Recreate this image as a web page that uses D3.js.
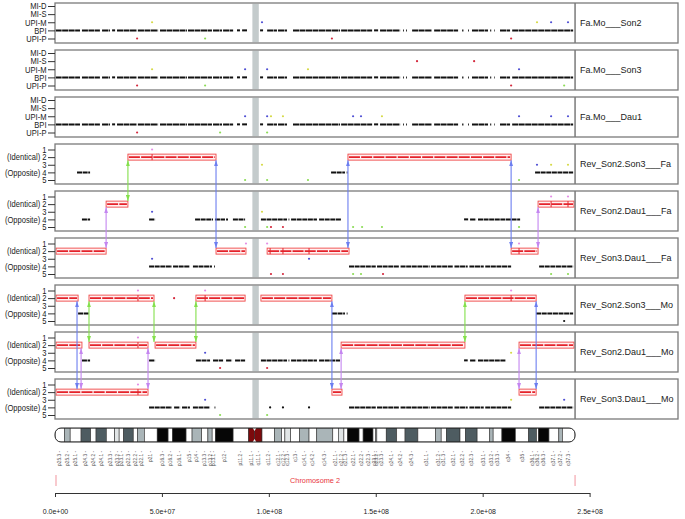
<!DOCTYPE html>
<html>
<head>
<meta charset="utf-8">
<script src="https://cdn.jsdelivr.net/npm/d3@7"></script>
<style>
body { margin: 0; background: #fff; }
svg { display: block; }
</style>
</head>
<body>
<svg id="chart" width="685" height="519"></svg>
<script>
// panel labels, rows
const panelNames = ['Fa.Mo___Son2', 'Fa.Mo___Son3', 'Fa.Mo___Dau1',
  'Rev_Son2.Son3___Fa', 'Rev_Son2.Dau1___Fa', 'Rev_Son3.Dau1___Fa',
  'Rev_Son2.Son3___Mo', 'Rev_Son2.Dau1___Mo', 'Rev_Son3.Dau1___Mo'];
const topRowLabels = ['MI-D', 'MI-S', 'UPI-M', 'BPI', 'UPI-P'];
const lowRowLabels = ['1', '(Identical) 2', '3', '(Opposite) 4', '5'];
const centromere = [92.3, 95.3]; // Mb

// BPI runs (Mb), same in the three Fa.Mo panels
const bpiRuns = [[0.3,11.7],[12.6,21],[22,25.7],[26.7,28.1],[29,38.4],[38.8,48.2],[49.1,61.7],[62.2,73.4],
  [73.9,78.1],[78.6,83.3],[85.1,86.5],[87.5,89.8],[95.9,97.3],[99.2,103.8],[104.3,108.5],[111.3,133.3],
  [133.8,148.3],[149.2,151.1],[152,161.4],[162.8,163.2],[164.2,164.6],[167,176.3],[177.3,188.5],[190.4,191],
  [193.2,193.6],[195,202.5],[203.5,204],[205.3,205.6],[208.1,212.8],[213.8,242.3]];

// [Mb, row (1..5), colour class]
const topDots = [
  [[45.4,3,'yellow'],[96.8,3,'blue'],[225.4,3,'yellow'],[232.0,3,'blue'],[239.9,3,'blue'],
   [38.4,5,'red'],[70.2,5,'green'],[129.5,5,'red'],[213.3,5,'red']],
  [[45.4,3,'yellow'],[88.9,3,'blue'],[99.2,3,'blue'],[118.3,3,'yellow'],[217.0,3,'blue'],
   [169.3,2,'red'],[196.0,2,'red'],[38.4,5,'red'],[70.2,5,'green'],[213.3,5,'red'],[238.1,5,'green']],
  [[88.9,3,'blue'],[99.2,3,'blue'],[101.0,3,'yellow'],[106.6,3,'yellow'],[139.4,3,'blue'],[143.1,3,'blue'],
   [152.9,3,'yellow'],[217.0,3,'blue'],[232.0,3,'blue'],[239.9,3,'blue'],
   [38.4,5,'red'],[77.2,5,'green'],[99.2,5,'green']]
];

// identical-state blocks (Mb) for the six Rev panels
const boxes = [
  [[34.1,75.3],[137.0,213.3]],
  [[23.9,34.1],[225.9,242.7]],
  [[0.5,23.9],[75.3,89.3],[99.2,137.5],[213.3,225.9]],
  [[0.5,10.8],[15.9,46.3],[65.9,88.9],[96.3,129.5],[191.7,225.0]],
  [[0.5,12.6],[15.9,43.5],[46.8,65.9],[133.8,191.7],[217.0,242.7]],
  [[0.5,43.5],[129.5,134.2],[217.0,225.0]]
];
const boxTicks = [
  [45.4],
  [232.0,239.9],
  [100.6,106.6,118.8,217.0],
  [38.8,70.2,213.3],
  [38.8],
  [38.8]
];
// opposite-state runs (row 4)
const oppRuns = [
  [[10.3,16.4],[129.1,135.6],[136.4,136.8],[224.5,242.3]],
  [[12.6,16.4],[44.0,46.8],[65.5,73.9],[74.8,79.5],[80.0,80.9],[83.2,88.9],[96.3,108.5],[109.2,109.6],
   [110.4,122.5],[123.5,133.8],[191.3,193.2],[194.1,196.9],[197.8,217.5]],
  [[44.0,54.7],[55.2,63.1],[64.5,73.4],[74.4,74.8],[137.5,150.0],[150.6,161.0],[161.6,175.2],[175.8,186.0],
   [186.8,193.0],[193.8,200.5],[201.2,213.3],[226.4,242.3]],
  [[10.8,15.9],[129.5,135.6],[136.4,136.8],[225.0,242.3]],
  [[12.6,16.4],[44.0,46.8],[65.9,72.5],[73.9,78.6],[80.0,82.8],[84.2,88.9],[96.3,108.5],[109.2,109.6],
   [110.4,122.5],[123.5,133.3],[191.3,193.0],[194.1,196.9],[197.8,210.9]],
  [[44.0,54.7],[55.7,58.5],[59.4,63.1],[64.5,72.5],[74.6,75.0],[137.5,150.0],[150.6,161.0],[161.6,175.2],
   [175.8,186.0],[186.8,193.0],[193.8,200.5],[201.2,213.3],[226.4,242.3]]
];
const lowDots = [
  [[45.4,1,'pink'],[96.8,3,'yellow'],[88.9,5,'green'],[99.2,5,'green'],[118.3,5,'green'],
   [225.4,3,'blue'],[232.0,3,'yellow'],[239.9,3,'yellow'],[217.0,5,'green']],
  [[45.4,3,'blue'],[96.8,3,'yellow'],[88.9,5,'green'],[99.2,5,'green'],[101.0,5,'red'],[106.6,5,'red'],
   [139.4,5,'green'],[143.6,5,'green'],[152.9,5,'green'],[217.0,5,'green'],[232.0,1,'pink'],[239.9,1,'pink']],
  [[89.3,1,'pink'],[99.2,1,'pink'],[45.4,3,'blue'],[118.8,3,'blue'],[101.0,5,'red'],[106.6,5,'red'],
   [139.4,5,'green'],[143.1,5,'green'],[153.4,5,'red'],[217.0,1,'pink'],[232.0,5,'green'],[239.9,5,'green']],
  [[38.8,1,'pink'],[55.7,2,'red'],[70.2,1,'pink'],[213.3,1,'pink'],[238.1,5,'black']],
  [[38.8,1,'pink'],[70.2,3,'blue'],[77.2,5,'red'],[99.2,5,'red'],[213.3,3,'yellow']],
  [[38.8,1,'pink'],[70.2,3,'blue'],[77.2,5,'green'],[99.2,5,'green'],[100.6,4,'black'],[106.6,4,'black'],
   [118.8,4,'black'],[213.3,3,'yellow'],[238.1,3,'blue']]
];
// [Mb, from panel, to panel, colour] (Rev panels counted 0..5)
const arrows = [
  [34.1,0,1,'green'],[23.9,1,2,'purple'],[75.3,0,2,'blue'],[137.0,0,2,'blue'],[213.3,0,2,'blue'],[225.9,1,2,'purple'],
  [10.3,3,5,'blue'],[15.9,3,4,'green'],[12.2,4,5,'purple'],[46.3,3,4,'green'],[43.5,4,5,'purple'],
  [65.9,3,4,'green'],[129.5,3,5,'blue'],[133.8,4,5,'purple'],[191.7,3,4,'green'],[217.0,4,5,'purple'],[225.0,3,5,'blue']
];

// chromosome 2 bands (Mb)
const bands = [
  ['p25.3',0,4.4,'gneg'],['p25.2',4.4,7.1,'gpos50'],['p25.1',7.1,12.2,'gneg'],['p24.3',12.2,16.7,'gpos75'],
  ['p24.2',16.7,19.2,'gneg'],['p24.1',19.2,24.0,'gpos75'],['p23.3',24.0,27.9,'gneg'],['p23.2',27.9,30.0,'gpos25'],
  ['p23.1',30.0,32.1,'gneg'],['p22.3',32.1,36.6,'gpos75'],['p22.2',36.6,38.6,'gneg'],['p22.1',38.6,41.8,'gpos50'],
  ['p21',41.8,47.8,'gneg'],['p16.3',47.8,52.9,'gpos100'],['p16.2',52.9,55.0,'gneg'],['p16.1',55.0,61.3,'gpos100'],
  ['p15',61.3,64.1,'gneg'],['p14',64.1,68.6,'gpos50'],['p13.3',68.6,71.5,'gneg'],['p13.2',71.5,73.5,'gpos50'],
  ['p13.1',73.5,75.0,'gneg'],['p12',75.0,83.3,'gpos100'],['p11.2',83.3,90.5,'gneg'],['p11.1',90.5,93.3,'acen'],
  ['q11.1',93.3,96.8,'acen'],['q11.2',96.8,102.7,'gneg'],['q12.1',102.7,106.0,'gpos50'],['q12.2',106.0,107.5,'gneg'],
  ['q12.3',107.5,110.2,'gpos25'],['q13',110.2,114.4,'gneg'],['q14.1',114.4,118.8,'gpos50'],['q14.2',118.8,122.4,'gneg'],
  ['q14.3',122.4,129.9,'gpos50'],['q21.1',129.9,132.5,'gneg'],['q21.2',132.5,135.1,'gpos25'],['q21.3',135.1,136.8,'gneg'],
  ['q22.1',136.8,142.2,'gpos100'],['q22.2',142.2,144.1,'gneg'],['q22.3',144.1,148.7,'gpos100'],['q23.1',148.7,149.9,'gneg'],
  ['q23.2',149.9,150.5,'gpos25'],['q23.3',150.5,154.9,'gneg'],['q24.1',154.9,159.8,'gpos75'],['q24.2',159.8,163.7,'gneg'],
  ['q24.3',163.7,169.7,'gpos75'],['q31.1',169.7,178.0,'gneg'],['q31.2',178.0,180.6,'gpos50'],['q31.3',180.6,183.0,'gneg'],
  ['q32.1',183.0,189.4,'gpos75'],['q32.2',189.4,191.9,'gneg'],['q32.3',191.9,197.4,'gpos75'],['q33.1',197.4,203.3,'gneg'],
  ['q33.2',203.3,204.9,'gpos50'],['q33.3',204.9,209.0,'gneg'],['q34',209.0,215.3,'gpos100'],['q35',215.3,221.5,'gneg'],
  ['q36.1',221.5,225.2,'gpos75'],['q36.2',225.2,226.1,'gneg'],['q36.3',226.1,231.0,'gpos100'],['q37.1',231.0,235.6,'gneg'],
  ['q37.2',235.6,237.3,'gpos50'],['q37.3',237.3,243.2,'gneg']
];
const chromLength = 243.2;
const chromLabel = 'Chromosome 2';
const xTicks = [0, 5e7, 1e8, 1.5e8, 2e8, 2.5e8];

const dotColor = {pink: '#e48ee6', blue: '#5050d4', yellow: '#d6da48', green: '#8cdc56', red: '#d42a3e', black: '#111'};
const arrowColor = {green: '#84e04c', blue: '#6c7ef0', purple: '#c486f0'};
const stainColor = {gneg: '#ffffff', gpos25: '#e1e5e6', gpos50: '#aab5b8', gpos75: '#4e5c61', gpos100: '#060606', acen: '#7c0a0c'};

const svg = d3.select('#chart');
const x = d3.scaleLinear().domain([0, 250]).range([55, 589.6]);
const xbp = d3.scaleLinear().domain([0, 2.5e8]).range([55, 589.6]);
const plotL = 55, plotR = x(chromLength), boxR = 678;
const panelTop = i => 3 + 47 * i;
const panelH = 40;
const rowY = i => d3.scaleLinear().domain([1, 5])
  .range(i < 3 ? [panelTop(i) + 3, panelTop(i) + 35.5] : [panelTop(i) + 5.5, panelTop(i) + 36]);

const defs = svg.append('defs');
Object.keys(arrowColor).forEach(k => {
  defs.append('marker')
    .attr('id', 'ah-' + k)
    .attr('viewBox', '0 0 6 4')
    .attr('refX', 6).attr('refY', 2)
    .attr('markerWidth', 6).attr('markerHeight', 4.2)
    .attr('markerUnits', 'userSpaceOnUse')
    .attr('orient', 'auto-start-reverse')
    .append('path').attr('d', 'M0,0L6,2L0,4Z').attr('fill', arrowColor[k]);
});

panelNames.forEach((name, i) => {
  const top = panelTop(i);
  const y = rowY(i);
  const g = svg.append('g');

  g.append('rect').attr('x', plotL).attr('y', top).attr('width', plotR - plotL).attr('height', panelH)
    .attr('fill', '#fff');
  g.append('rect')
    .attr('x', x(centromere[0])).attr('y', top + 0.8)
    .attr('width', x(centromere[1]) - x(centromere[0])).attr('height', panelH - 1.6)
    .attr('fill', '#c4cbcc');

  if (i < 3) {
    g.selectAll('line.bpi').data(bpiRuns).enter().append('line')
      .attr('x1', d => x(d[0])).attr('x2', d => x(d[1]))
      .attr('y1', y(4)).attr('y2', y(4))
      .attr('stroke', '#111').attr('stroke-width', 2)
      .attr('stroke-dasharray', '6,0.5');
    g.selectAll('circle').data(topDots[i]).enter().append('circle')
      .attr('cx', d => x(d[0])).attr('cy', d => y(d[1])).attr('r', 1.1)
      .attr('fill', d => dotColor[d[2]]);
  } else {
    const k = i - 3;
    g.selectAll('line.opp').data(oppRuns[k]).enter().append('line')
      .attr('x1', d => x(d[0])).attr('x2', d => x(d[1]))
      .attr('y1', y(4)).attr('y2', y(4))
      .attr('stroke', '#111').attr('stroke-width', 2)
      .attr('stroke-dasharray', '5,0.6');
    g.selectAll('rect.box').data(boxes[k]).enter().append('rect')
      .attr('x', d => x(d[0])).attr('width', d => x(d[1]) - x(d[0]))
      .attr('y', y(2) - 3).attr('height', 6)
      .attr('fill', 'rgba(255,210,210,0.3)').attr('stroke', '#f04848').attr('stroke-width', 0.9);
    g.selectAll('line.ident').data(boxes[k]).enter().append('line')
      .attr('x1', d => x(d[0]) + 1).attr('x2', d => x(d[1]) - 1)
      .attr('y1', y(2)).attr('y2', y(2))
      .attr('stroke', '#e4222a').attr('stroke-width', 1.8)
      .attr('stroke-dasharray', '11,1.2');
    g.selectAll('line.tick').data(boxTicks[k]).enter().append('line')
      .attr('x1', d => x(d)).attr('x2', d => x(d))
      .attr('y1', y(2) - 3).attr('y2', y(2) + 3)
      .attr('stroke', '#e4222a').attr('stroke-width', 1);
    g.selectAll('circle').data(lowDots[k]).enter().append('circle')
      .attr('cx', d => x(d[0])).attr('cy', d => y(d[1])).attr('r', 1.1)
      .attr('fill', d => dotColor[d[2]]);
  }

  // frame + label box
  g.append('rect').attr('x', plotL).attr('y', top).attr('width', boxR - plotL).attr('height', panelH)
    .attr('fill', 'none').attr('stroke', '#7a7a7a').attr('stroke-width', 1.3);
  g.append('line').attr('x1', plotR).attr('x2', plotR).attr('y1', top).attr('y2', top + panelH)
    .attr('stroke', '#7a7a7a').attr('stroke-width', 1.5);
  g.append('text').attr('x', plotR + 5).attr('y', top + panelH / 2 + 3)
    .attr('font-family', 'Liberation Sans, Arial, sans-serif').attr('font-size', 9)
    .attr('fill', '#222').text(name);

  // y axis
  const labels = i < 3 ? topRowLabels : lowRowLabels;
  const ax = g.append('g').attr('transform', `translate(${plotL},0)`)
    .call(d3.axisLeft(y).tickValues([1, 2, 3, 4, 5]).tickSize(7).tickPadding(1.5)
      .tickFormat((d, j) => labels[j]));
  ax.select('.domain').remove();
  ax.selectAll('line').attr('stroke', '#333');
  ax.selectAll('text')
    .attr('font-family', 'Liberation Sans, Arial, sans-serif').attr('font-size', 8.6)
    .attr('fill', '#222')
    .attr('x', -8.5 / 0.88)
    .attr('transform', 'scale(0.88,1)');
});

// arrows between Rev panels
svg.append('g').selectAll('line').data(arrows).enter().append('line')
  .attr('x1', d => x(d[0])).attr('x2', d => x(d[0]))
  .attr('y1', d => rowY(d[1] + 3)(2) + 3.2)
  .attr('y2', d => rowY(d[2] + 3)(2) - 3.2)
  .attr('stroke', d => arrowColor[d[3]]).attr('stroke-width', 1.1)
  .attr('marker-start', d => `url(#ah-${d[3]})`)
  .attr('marker-end', d => `url(#ah-${d[3]})`);

// ideogram
const ideoY = 428, ideoH = 14;
defs.append('clipPath').attr('id', 'chromClip')
  .append('rect').attr('x', plotL).attr('y', ideoY).attr('width', plotR - plotL).attr('height', ideoH)
  .attr('rx', 6).attr('ry', 6);
const ideo = svg.append('g');
ideo.append('g').attr('clip-path', 'url(#chromClip)')
  .selectAll('rect').data(bands).enter().append('rect')
  .attr('x', d => x(d[1])).attr('width', d => x(d[2]) - x(d[1]))
  .attr('y', ideoY).attr('height', ideoH)
  .attr('fill', d => stainColor[d[3]])
  .attr('stroke', '#333').attr('stroke-width', 0.6);
const cen = x(93.3);
ideo.append('path').attr('d', `M${cen - 1.8},${ideoY}L${cen + 1.8},${ideoY}L${cen},${ideoY + 3}Z`).attr('fill', '#fff');
ideo.append('path').attr('d', `M${cen - 1.8},${ideoY + ideoH}L${cen + 1.8},${ideoY + ideoH}L${cen},${ideoY + ideoH - 3}Z`).attr('fill', '#fff');
ideo.append('rect').attr('x', plotL).attr('y', ideoY).attr('width', plotR - plotL).attr('height', ideoH)
  .attr('rx', 6).attr('ry', 6).attr('fill', 'none').attr('stroke', '#222').attr('stroke-width', 1);

ideo.selectAll('text').data(bands).enter().append('text')
  .attr('transform', d => `translate(${x((d[1] + d[2]) / 2) + 1.6},${ideoY + ideoH + 9}) rotate(-90)`)
  .attr('text-anchor', 'end')
  .attr('font-family', 'Liberation Sans, Arial, sans-serif').attr('font-size', 4.8)
  .attr('fill', '#555')
  .text(d => d[0] + ' -');

svg.append('text').attr('x', (x(0) + plotR) / 2).attr('y', 483)
  .attr('text-anchor', 'middle')
  .attr('font-family', 'Liberation Sans, Arial, sans-serif').attr('font-size', 7.3)
  .attr('fill', '#e8343c').text(chromLabel);
svg.selectAll('line.chromEnd').data([0, chromLength]).enter().append('line')
  .attr('x1', d => x(d) + (d === 0 ? 1 : 0)).attr('x2', d => x(d) + (d === 0 ? 1 : 0))
  .attr('y1', 475).attr('y2', 486)
  .attr('stroke', '#f4a6ae').attr('stroke-width', 1.2);

// genomic axis
const fmt = v => d3.format('.1e')(v).replace(/e([+-])(\d)$/, 'e$10$2');
const xa = svg.append('g').attr('transform', 'translate(0,493)')
  .call(d3.axisBottom(xbp).tickValues(xTicks).tickSize(4).tickSizeOuter(0).tickPadding(12).tickFormat(fmt));
xa.select('.domain').attr('stroke', '#333');
xa.selectAll('line').attr('stroke', '#333');
xa.selectAll('text').attr('font-family', 'Liberation Sans, Arial, sans-serif').attr('font-size', 7).attr('fill', '#222');
</script>
</body>
</html>
